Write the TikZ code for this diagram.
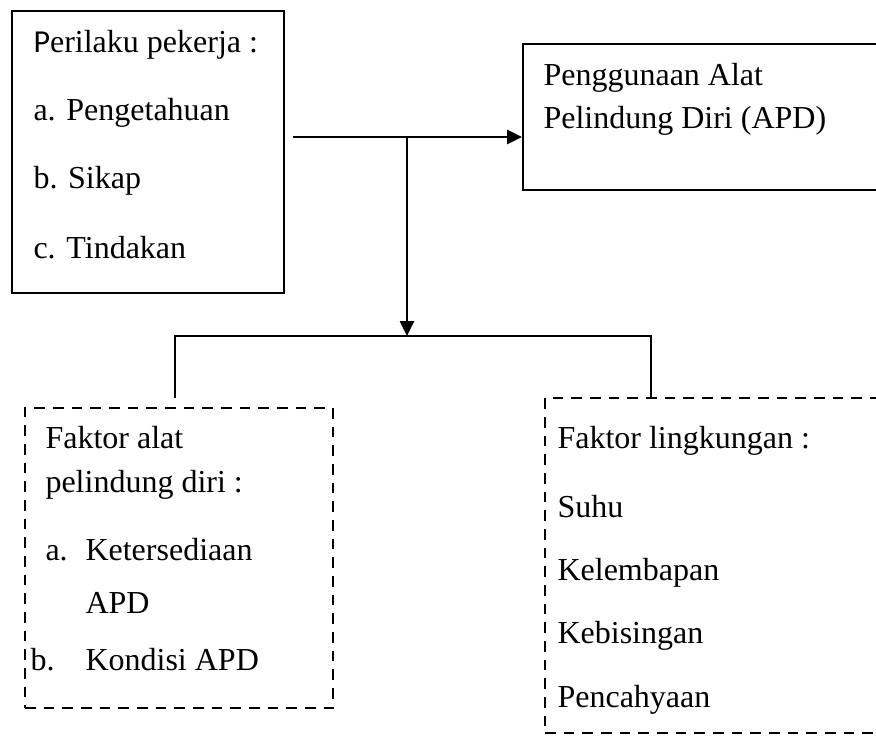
\documentclass[tikz,border=0pt]{standalone}
\usepackage{fontspec}
\setmainfont{Liberation Serif}
\newfontfamily\calibri{Carlito}
\usetikzlibrary{arrows.meta, fit}

\begin{document}
\begin{tikzpicture}[x=0.375pt, y=-0.375pt,
    kotak/.style={draw, line width=0.75pt, inner sep=0pt},
    kotakputus/.style={draw, line width=0.95pt, dash pattern=on 4pt off 3pt, inner sep=0pt},
    teks/.style={anchor=base west, inner sep=0pt, font=\fontsize{12}{14}\selectfont},
    garis/.style={line width=0.75pt},
    panah/.style={line width=0.75pt, -{Triangle[length=5.6pt, width=5.3pt]}}]
    \clip (0,0) rectangle (876,736);
    \node [kotak, fit={(12,11) (284,293)}] (perilaku) {};
    \node [kotak, fit={(523,44) (900,190)}] (apd) {};
    \node [kotakputus, fit={(25,408) (333,708)}] (alat) {};
    \node [kotakputus, fit={(545,398) (900,733)}] (lingkungan) {};
    \node [teks] (p0) at (33,52) {{\calibri P}erilaku pekerja :};
    \node [teks] (p1) at (33,120) {a. Pengetahuan};
    \node [teks] (p2) at (33,188) {b. Sikap};
    \node [teks] (p3) at (33,258) {c. Tindakan};
    \node [teks] (g1) at (543,85) {Penggunaan Alat};
    \node [teks] (g2) at (543,128) {Pelindung Diri (APD)};
    \node [teks] (a1) at (45,448) {Faktor alat};
    \node [teks] (a2) at (45,492) {pelindung diri :};
    \node [teks] (a3) at (45,560) {a.};
    \node [teks] (a4) at (85,560) {Ketersediaan};
    \node [teks] (a5) at (85,613) {APD};
    \node [teks] (a6) at (30,670) {b.};
    \node [teks] (a7) at (85,670) {Kondisi APD};
    \node [teks] (l1) at (557,448) {Faktor lingkungan :};
    \node [teks] (l2) at (557,517) {Suhu};
    \node [teks] (l3) at (557,580) {Kelembapan};
    \node [teks] (l4) at (557,643) {Kebisingan};
    \node [teks] (l5) at (557,707) {Pencahyaan};
    \coordinate (awal) at (293,137);
    \coordinate (cabang) at (407,137);
    \coordinate (tengah) at (407,336);
    \coordinate (kiri) at (175,336);
    \coordinate (kanan) at (651,336);
    \coordinate (ujungkiri) at (175,398);
    \draw [panah] (awal) -- (apd.west |- awal);
    \draw [panah] (cabang) -- (tengah);
    \draw [garis] (ujungkiri) -- (kiri) -- (kanan) -- (kanan |- lingkungan.north);
\end{tikzpicture}
\end{document}
